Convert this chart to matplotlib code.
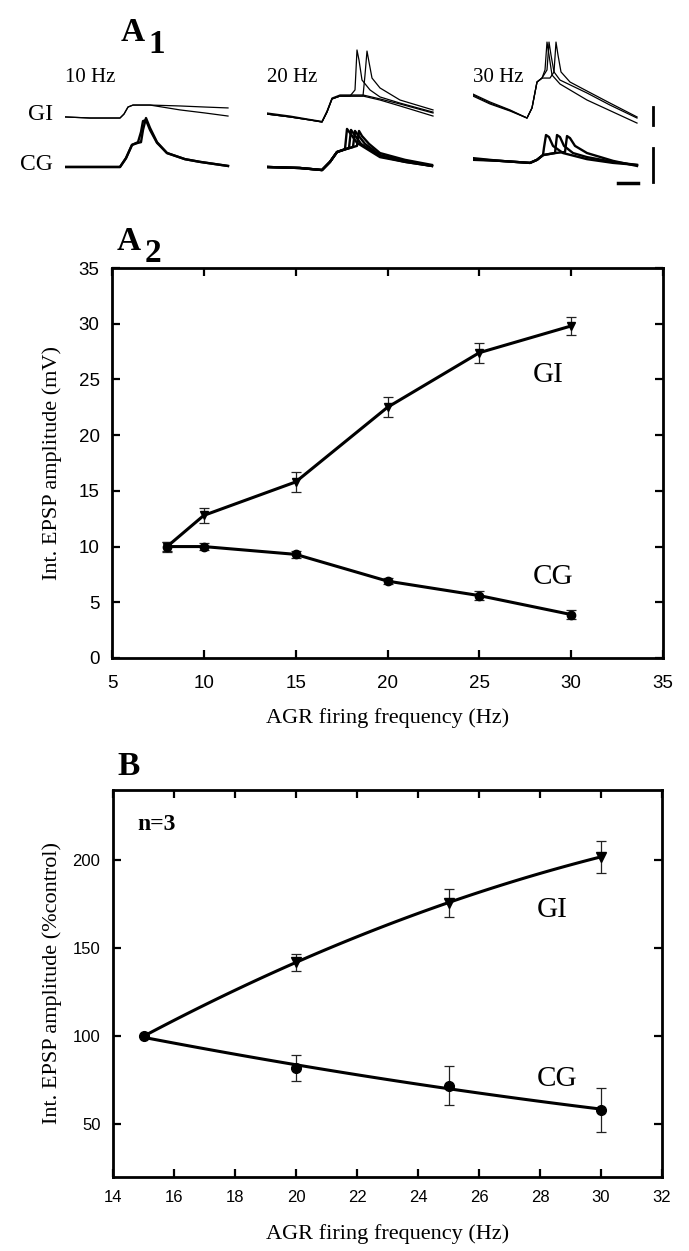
import numpy as np
import matplotlib.pyplot as plt

# ---- A2: integrated EPSP amplitude (mV) vs AGR firing frequency
freq_a2 = [8, 10, 15, 20, 25, 30]
gi_a2 = [10.0, 12.8, 15.8, 22.5, 27.4, 29.8]
gi_a2_err = [0.45, 0.7, 0.9, 0.9, 0.9, 0.8]
cg_a2 = [10.0, 10.0, 9.3, 6.9, 5.6, 3.9]
cg_a2_err = [0.4, 0.3, 0.3, 0.3, 0.4, 0.4]

# ---- B: % of control, n=3
freq_b = [15, 20, 25, 30]
gi_b = [100, 142, 176, 202]
gi_b_err = [0, 5, 8, 9]
cg_b = [100, 82, 72, 58]
cg_b_err = [0, 7.5, 11, 12.5]

# ---- A1: example traces (time in ms, voltage in mV above baseline)
gi10_t = [0, 25, 45, 55, 59, 63, 68, 85, 115, 140, 163]
gi10_v1 = [1.7, 1.1, 1.1, 1.1, 3.3, 7.2, 8.3, 8.3, 7.8, 7.2, 6.7]
gi10_v2 = [1.7, 1.1, 1.1, 1.1, 3.3, 7.2, 8.3, 8.3, 5.6, 3.9, 2.2]
cg10_t = [0, 35, 55, 61, 67, 73, 76, 78, 81, 85, 92, 102, 120, 135, 163]
cg10_v1 = [0.3, 0.3, 0.3, 2.9, 6.8, 7.4, 7.6, 11.2, 14.7, 11.8, 7.6, 4.4, 2.6, 1.8, 0.6]
cg10_v2 = [0.3, 0.3, 0.3, 2.9, 6.8, 7.6, 10.6, 13.8, 14.1, 11.2, 7.4, 4.4, 2.6, 1.8, 0.6]

gi20_t1 = [0, 23, 43, 55, 60, 65, 73, 83, 88, 90, 92, 95, 103, 113, 133, 166]
gi20_v1 = [3.3, 1.7, 0.0, -1.1, 4.4, 11.7, 13.3, 13.3, 16.7, 38.9, 33.3, 22.2, 16.7, 12.8, 9.4, 4.4]
gi20_t2 = [0, 23, 43, 55, 60, 65, 73, 83, 96, 98, 100, 102, 105, 113, 133, 166]
gi20_v2 = [3.3, 1.7, 0.0, -1.1, 4.4, 11.7, 13.3, 13.3, 13.3, 25.0, 38.3, 32.2, 23.3, 17.8, 11.1, 5.6]
gi20_t3 = [0, 23, 43, 55, 60, 65, 73, 83, 96, 113, 133, 166]
gi20_v3 = [3.3, 1.7, 0.0, -1.1, 4.4, 11.7, 13.3, 13.3, 13.3, 11.1, 7.8, 2.2]
gi20_v4 = [3.9, 2.2, 0.3, -0.8, 5.0, 12.2, 13.9, 13.9, 13.9, 11.7, 8.9, 3.9]
cg20_t1 = [0, 33, 55, 63, 70, 76, 78, 80, 83, 90, 113, 138, 165]
cg20_v1 = [0.3, 0.0, -0.6, 1.8, 4.7, 5.3, 5.6, 11.5, 10.3, 7.4, 3.2, 1.8, 0.6]
cg20_t2 = [0, 33, 55, 63, 70, 76, 82, 84, 87, 94, 113, 138, 165]
cg20_v2 = [0.3, 0.0, -0.6, 1.8, 4.7, 5.3, 5.9, 11.2, 10.0, 7.1, 3.5, 1.8, 0.6]
cg20_t3 = [0, 33, 55, 63, 70, 76, 86, 88, 91, 98, 113, 138, 165]
cg20_v3 = [0.3, 0.0, -0.6, 1.8, 4.7, 5.3, 6.2, 10.9, 9.7, 7.1, 3.8, 2.1, 0.6]
cg20_t4 = [0, 33, 55, 63, 70, 76, 90, 92, 95, 102, 113, 138, 165]
cg20_v4 = [0.3, 0.0, -0.6, 1.8, 4.7, 5.3, 6.5, 10.9, 9.4, 7.1, 4.4, 2.4, 0.9]

gi30_t1 = [0, 17, 37, 54, 59, 64, 69, 72, 74, 76, 79, 87, 114, 164]
gi30_v1 = [13.3, 8.9, 5.0, 1.1, 6.7, 21.1, 23.3, 27.8, 43.3, 36.1, 25.0, 20.0, 11.1, -1.7]
gi30_t2 = [0, 17, 37, 54, 59, 64, 69, 74, 76, 78, 81, 87, 114, 137, 164]
gi30_v2 = [14.4, 10.0, 5.6, 1.1, 6.7, 21.1, 23.3, 27.8, 43.3, 36.1, 26.7, 22.2, 15.0, 8.3, 1.1]
gi30_t3 = [0, 17, 37, 54, 59, 64, 69, 77, 81, 83, 85, 88, 97, 114, 137, 164]
gi30_v3 = [13.9, 9.4, 5.3, 1.1, 6.7, 21.1, 23.3, 23.3, 26.7, 43.3, 36.1, 26.7, 21.1, 16.1, 9.4, 1.7]
cg30_t1 = [0, 27, 57, 64, 70, 71, 73, 76, 80, 90, 114, 140, 164]
cg30_v1 = [2.6, 2.1, 1.5, 2.4, 3.8, 6.0, 9.7, 9.1, 6.5, 4.4, 2.6, 1.5, 0.9]
cg30_t2 = [0, 27, 57, 64, 70, 82, 84, 87, 91, 100, 114, 140, 164]
cg30_v2 = [2.9, 2.1, 1.5, 2.4, 3.8, 4.4, 9.7, 9.1, 6.5, 4.4, 3.2, 1.8, 0.9]
cg30_t3 = [0, 27, 57, 64, 70, 82, 92, 94, 97, 102, 114, 140, 164]
cg30_v3 = [2.4, 2.1, 1.5, 2.4, 3.8, 4.4, 4.7, 9.4, 8.8, 6.5, 4.4, 2.1, 0.6]

SERIF = 'Liberation Serif'
SANS = 'Liberation Sans'
W, H = 689, 1251

def rect(x0, y0, x1, y1):
    # pixel box (top-left origin) -> figure fraction
    return [x0 / W, 1 - y1 / H, (x1 - x0) / W, (y1 - y0) / H]

def fxy(x, y):
    return x / W, 1 - y / H

fig = plt.figure(figsize=(W / 100, H / 100), dpi=100)

# ---------------- A1 traces
cols = [
    (65, '10 Hz', [(gi10_t, gi10_v1), (gi10_t, gi10_v2)],
     [(cg10_t, cg10_v1), (cg10_t, cg10_v2)]),
    (267, '20 Hz', [(gi20_t1, gi20_v1), (gi20_t2, gi20_v2), (gi20_t3, gi20_v3), (gi20_t3, gi20_v4)],
     [(cg20_t1, cg20_v1), (cg20_t2, cg20_v2), (cg20_t3, cg20_v3), (cg20_t4, cg20_v4)]),
    (473, '30 Hz', [(gi30_t1, gi30_v1), (gi30_t2, gi30_v2), (gi30_t3, gi30_v3)],
     [(cg30_t1, cg30_v1), (cg30_t2, cg30_v2), (cg30_t3, cg30_v3)]),
]
gi_zero, gi_pxmv = 120, 1.8
cg_zero, cg_pxmv = 168, 3.4
for i, (x0, lab, gi_sw, cg_sw) in enumerate(cols):
    a_gi = fig.add_axes(rect(x0, 30, x0 + 190, 130))
    a_gi.set_xlim(0, 190)
    a_gi.set_ylim((gi_zero - 130) / gi_pxmv, (gi_zero - 30) / gi_pxmv)
    for t, v in gi_sw:
        a_gi.plot(t, v, color='black', lw=0.9)
    a_cg = fig.add_axes(rect(x0, 110, x0 + 190, 190))
    a_cg.set_xlim(0, 190)
    a_cg.set_ylim((cg_zero - 190) / cg_pxmv, (cg_zero - 110) / cg_pxmv)
    for t, v in cg_sw:
        a_cg.plot(t, v, color='black', lw=1.7)
    for a in (a_gi, a_cg):
        a.axis('off')
        a.patch.set_visible(False)
    fig.text(*fxy(x0, 77), lab, family=SERIF, fontsize=15, va='center', ha='left')
    if i == 2:
        # scale bars: 10 mV (each row), 20 ms
        a_gi.plot([180, 180], [-2.8, 7.2], color='black', lw=2, clip_on=False)
        a_cg.plot([180, 180], [-4.1, 5.9], color='black', lw=2, clip_on=False)
        a_cg.plot([145, 165], [-4.4, -4.4], color='black', lw=2.5, clip_on=False)

fig.text(*fxy(53, 114), 'GI', family=SERIF, fontsize=17, va='center', ha='right')
fig.text(*fxy(53, 165), 'CG', family=SERIF, fontsize=17, va='center', ha='right')

# panel letters
fig.text(*fxy(121, 41), 'A', family=SERIF, fontweight='bold', fontsize=24, va='baseline')
fig.text(*fxy(148, 53), '1', family=SERIF, fontweight='bold', fontsize=24, va='baseline')
fig.text(*fxy(117, 250), 'A', family=SERIF, fontweight='bold', fontsize=24, va='baseline')
fig.text(*fxy(145, 262), '2', family=SERIF, fontweight='bold', fontsize=24, va='baseline')
fig.text(*fxy(117, 775), 'B', family=SERIF, fontweight='bold', fontsize=24, va='baseline')


def style_axes(ax, labsize, xpad, ypad):
    for s in ax.spines.values():
        s.set_linewidth(2.0)
    ax.tick_params(direction='in', length=6, width=1.6, top=True, right=True,
                   labelsize=labsize)
    ax.tick_params(axis='x', pad=xpad)
    ax.tick_params(axis='y', pad=ypad)
    for lbl in ax.get_xticklabels() + ax.get_yticklabels():
        lbl.set_family(SANS)


eb = dict(color='black', ecolor='#222222', elinewidth=0.9, capsize=3.5, capthick=0.9)

# ---------------- A2
ax2 = fig.add_axes(rect(112, 268, 663, 658))
ax2.errorbar(freq_a2, gi_a2, yerr=gi_a2_err, marker='v', ms=6, lw=2.2, **eb)
ax2.errorbar(freq_a2, cg_a2, yerr=cg_a2_err, marker='o', ms=6, lw=2.2, **eb)
ax2.set_xlim(5, 35)
ax2.set_ylim(0, 35)
ax2.set_xticks(range(5, 36, 5))
ax2.set_yticks(range(0, 36, 5))
style_axes(ax2, 13.5, 12, 9)
ax2.set_xlabel('AGR firing frequency (Hz)', family=SERIF, fontsize=16, labelpad=12)
ax2.set_ylabel('Int. EPSP amplitude (mV)', family=SERIF, fontsize=16, labelpad=12)
ax2.text(27.9, 25.4, 'GI', family=SERIF, fontsize=21, va='center', ha='left')
ax2.text(27.9, 7.3, 'CG', family=SERIF, fontsize=21, va='center', ha='left')

# ---------------- B
axb = fig.add_axes(rect(113, 790, 662, 1177))
xs = np.linspace(freq_b[0], freq_b[-1], 100)
axb.plot(xs, np.polyval(np.polyfit(freq_b, gi_b, 2), xs), color='black', lw=2.2)
axb.plot(xs, np.polyval(np.polyfit(freq_b, cg_b, 2), xs), color='black', lw=2.2)
axb.errorbar(freq_b[1:], gi_b[1:], yerr=gi_b_err[1:], marker='v', ms=7, ls='none', **eb)
axb.errorbar(freq_b, cg_b, yerr=cg_b_err, marker='o', ms=7, ls='none', **eb)
axb.set_xlim(14, 32)
axb.set_ylim(20, 240)
axb.set_xticks(range(14, 33, 2))
axb.set_yticks([50, 100, 150, 200])
style_axes(axb, 12, 9, 9)
axb.set_xlabel('AGR firing frequency (Hz)', family=SERIF, fontsize=16, labelpad=14)
axb.set_ylabel('Int. EPSP amplitude (%control)', family=SERIF, fontsize=16, labelpad=8)
axb.text(27.9, 171.5, 'GI', family=SERIF, fontsize=21, va='center', ha='left')
axb.text(27.9, 75.5, 'CG', family=SERIF, fontsize=21, va='center', ha='left')
axb.text(14.8, 220.5, 'n=3', family=SERIF, fontweight='bold', fontsize=17, va='center', ha='left')

fig.savefig('out.png', dpi=100)
